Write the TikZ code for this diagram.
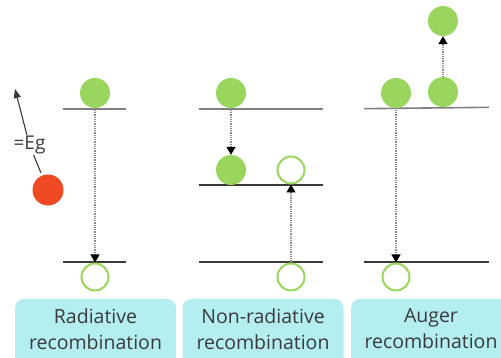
\documentclass[tikz,border=0pt]{standalone}
\usepackage{fontspec}
\setmainfont{Open Sans}
\usetikzlibrary{arrows.meta}
\definecolor{ballGreen}{HTML}{9AD65E}
\definecolor{ballRed}{HTML}{F04A24}
\definecolor{boxCyan}{HTML}{B4EEF1}
\definecolor{inkGray}{HTML}{3A3A3A}
\tikzset{
  electron/.style={circle, fill=ballGreen, minimum size=30pt, inner sep=0pt},
  hole/.style={circle, draw=ballGreen, line width=2pt, fill=white, minimum size=27pt, inner sep=0pt},
  photon/.style={circle, fill=ballRed, minimum size=31pt, inner sep=0pt},
  toplevel/.style={draw=black!50, line width=1.6pt},
  level/.style={draw=inkGray, line width=1.3pt},
  hop/.style={draw=black!45, line width=1.2pt, dash pattern=on 1pt off 0.8pt,
    -{Triangle[length=8pt,width=9pt,fill=black,color=black]}},
  labelbox/.style={draw=none, fill=boxCyan, rounded corners=9pt, minimum width=161pt,
    minimum height=80pt, inner sep=0pt},
  caption/.style={text=inkGray, align=center, font=\fontsize{19.5}{26}\selectfont}
}
\begin{document}
\begin{tikzpicture}[x=1pt, y=-1pt]
\useasboundingbox (0,0) rectangle (501,358);
% ---------- Radiative ----------
\draw[toplevel] (63,109) -- (126,109);
\draw[level] (63,262) -- (126,262);
\node[electron] (r-e) at (95,93) {};
\node[hole] (r-h) at (95,277) {};
\draw[hop] (r-e.south) -- (r-h.north);
% emitted photon
\node[photon] (r-ph) at (48,190) {};
\node[text=inkGray, font=\fontsize{19}{20}\selectfont, inner sep=1pt] (r-eg) at (29.5,145) {=Eg};
\coordinate (r-tip) at (15,89);
\draw[inkGray, line width=1.1pt, shorten <=3pt] (r-ph) -- (r-eg);
\draw[inkGray, line width=1.1pt, -{Triangle[length=9pt,width=7pt]}] (r-eg) -- (r-tip);
% ---------- Non-radiative ----------
\draw[toplevel] (199,109) -- (323,109);
\draw[level] (199,185) -- (323,185);
\draw[level] (199,262) -- (323,262);
\node[electron] (n-e1) at (231,93) {};
\node[electron] (n-e2) at (231,170) {};
\node[hole] (n-h1) at (291,170) {};
\node[hole] (n-h2) at (291,277) {};
\draw[hop] (n-e1.south) -- (n-e2.north);
\draw[hop] (n-h2.north) -- (n-h1.south);
% ---------- Auger ----------
\draw[toplevel] (364,108.7) -- (489,107.3);
\draw[level] (364,262) -- (489,262);
\node[electron] (a-e1) at (396,93) {};
\node[electron] (a-e2) at (443,92) {};
\node[electron] (a-e3) at (443,21) {};
\node[hole] (a-h) at (396,277) {};
\draw[hop] (a-e2.north) -- (a-e3.south);
\draw[hop] (a-e1.south) -- (a-h.north);
% ---------- captions ----------
\node[labelbox] (r-box) at (95.5,339) {};
\node[labelbox] (n-box) at (263,339) {};
\node[labelbox] (a-box) at (431.5,339) {};
\node[caption] at (95.5,329) {Radiative\\recombination};
\node[caption] at (263,329) {Non-radiative\\recombination};
\node[caption] at (431,329) {Auger\\recombination};
\end{tikzpicture}
\end{document}
